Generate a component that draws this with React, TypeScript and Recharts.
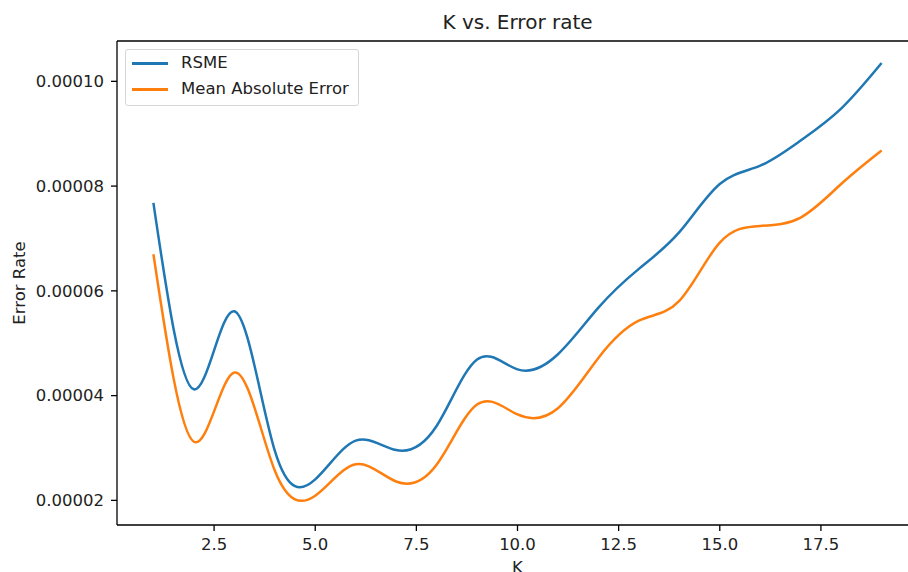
import {
  Label,
  Legend,
  Line,
  LineChart,
  ReferenceLine,
  XAxis,
  YAxis,
} from "recharts";

const K_VALUES = [1, 2, 3, 4, 5, 6, 7, 8, 9, 10, 11, 12, 13, 14, 15, 16, 17, 18, 19];
const RSME = [
  7.68e-5, 4.12e-5, 5.61e-5, 2.95e-5, 2.4e-5, 3.14e-5, 2.96e-5, 3.42e-5, 4.69e-5, 4.5e-5,
  4.79e-5, 5.68e-5, 6.42e-5, 7.12e-5, 8.04e-5, 8.39e-5, 8.87e-5, 9.48e-5, 10.35e-5,
];
const MAE = [
  6.7e-5, 3.12e-5, 4.44e-5, 2.57e-5, 2.09e-5, 2.69e-5, 2.36e-5, 2.68e-5, 3.83e-5, 3.64e-5,
  3.76e-5, 4.72e-5, 5.43e-5, 5.81e-5, 6.92e-5, 7.24e-5, 7.4e-5, 8.04e-5, 8.68e-5,
];
const X_TICKS = [2.5, 5, 7.5, 10, 12.5, 15, 17.5];
const Y_TICKS = [0.00002, 0.00004, 0.00006, 0.00008, 0.0001];

const X_DOMAIN = [0.1, 19.9];
const Y_DOMAIN = [0.0000153, 0.0001077];

const BLUE = "#1f77b4";
const ORANGE = "#ff7f0e";
const FONT = "'DejaVu Sans', sans-serif";
const tickStyle = { fontSize: 16.5, fill: "#222", fontFamily: FONT };

const chartData = K_VALUES.map((k, i) => ({ k, rsme: RSME[i], mae: MAE[i] }));

// matplotlib-style legend box in the upper left
const LegendBox = () => (
  <div
    style={{
      width: 232,
      height: 55,
      border: "1px solid #d6d6d6",
      borderRadius: 3,
      background: "rgba(255,255,255,0.8)",
      fontFamily: FONT,
      fontSize: 16.5,
      color: "#222",
      position: "relative",
    }}
  >
    {[
      { name: "RSME", color: BLUE, y: 13 },
      { name: "Mean Absolute Error", color: ORANGE, y: 39 },
    ].map((item) => (
      <div key={item.name}>
        <div
          style={{
            position: "absolute",
            left: 6,
            top: item.y - 1,
            width: 36,
            height: 2.5,
            background: item.color,
          }}
        />
        <div
          style={{
            position: "absolute",
            left: 55,
            top: item.y - 11,
            lineHeight: "22px",
            whiteSpace: "nowrap",
          }}
        >
          {item.name}
        </div>
      </div>
    ))}
  </div>
);

const App = () => {
  return (
    <div
      style={{
        position: "absolute",
        left: 0,
        top: 0,
        width: 908,
        height: 572,
        overflow: "hidden",
        background: "#fff",
      }}
    >
      <div
        style={{
          position: "absolute",
          left: 0,
          width: 1035,
          top: 10,
          textAlign: "center",
          fontFamily: FONT,
          fontSize: 20,
          color: "#222",
          lineHeight: "24px",
        }}
      >
        K vs. Error rate
      </div>
      <LineChart
        width={920}
        height={572}
        data={chartData}
        margin={{ top: 41, right: 2, bottom: 0, left: 0 }}
      >
        <XAxis
          dataKey="k"
          type="number"
          domain={X_DOMAIN}
          ticks={X_TICKS}
          allowDataOverflow
          tickFormatter={(v: number) => v.toFixed(1)}
          tick={tickStyle}
          tickSize={6}
          tickMargin={7}
          height={47}
          axisLine={{ stroke: "#000", strokeWidth: 1.3 }}
          tickLine={{ stroke: "#000", strokeWidth: 1.3 }}
        >
          <Label
            content={({ viewBox }: any) => (
              <text
                x={viewBox.x + viewBox.width / 2}
                y={viewBox.y + 48}
                textAnchor="middle"
                style={{ fontSize: 16.5, fill: "#222", fontFamily: FONT }}
              >
                K
              </text>
            )}
          />
        </XAxis>
        <YAxis
          type="number"
          domain={Y_DOMAIN}
          ticks={Y_TICKS}
          allowDataOverflow
          tickFormatter={(v: number) => v.toFixed(5)}
          tick={tickStyle}
          tickSize={6}
          tickMargin={7}
          width={117}
          axisLine={{ stroke: "#000", strokeWidth: 1.3 }}
          tickLine={{ stroke: "#000", strokeWidth: 1.3 }}
        >
          <Label
            content={({ viewBox }: any) => {
              const cy = viewBox.y + viewBox.height / 2;
              return (
                <text
                  x={25}
                  y={cy}
                  transform={`rotate(-90 25 ${cy})`}
                  textAnchor="middle"
                  style={{ fontSize: 16.5, fill: "#222", fontFamily: FONT }}
                >
                  Error Rate
                </text>
              );
            }}
          />
        </YAxis>
        {/* top spine */}
        <ReferenceLine y={Y_DOMAIN[1]} stroke="#000" strokeWidth={1.3} ifOverflow="visible" />
        <Legend
          layout="horizontal"
          verticalAlign="middle"
          align="center"
          content={() => <LegendBox />}
          wrapperStyle={{ left: 125, top: 49, width: "auto", height: "auto" }}
        />
        <Line
          type="natural"
          dataKey="rsme"
          name="RSME"
          stroke={BLUE}
          strokeWidth={2.5}
          dot={false}
          isAnimationActive={false}
        />
        <Line
          type="natural"
          dataKey="mae"
          name="Mean Absolute Error"
          stroke={ORANGE}
          strokeWidth={2.5}
          dot={false}
          isAnimationActive={false}
        />
      </LineChart>
    </div>
  );
};

export default App;
